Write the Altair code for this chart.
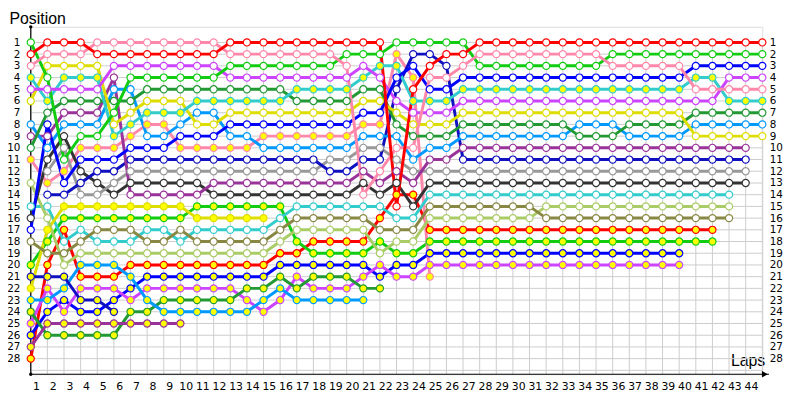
import altair as alt
import pandas as pd

N = None
# ---- data: position of each car at each lap (lap 0 = grid) ----
laps = list(range(45))
lap_labels = list(range(1, 45))       # label "n" sits between lap n-1 and lap n
pos_labels = list(range(1, 29))
grid_laps = list(range(45))
grid_pos = list(range(1, 30))

drivers = ["redY", "greenY", "blueY", "magY", "pinkY", "cyanW", "dkgreenY", "ltblueY",
           "yellowY", "purpleY", "dkblueY", "ltolive", "olive", "blackW", "grayW",
           "dkblueW", "purpleW", "ltblueW", "dkgreenW", "yellowW", "cyanY", "magW",
           "blueW", "greenW", "pinkW", "redW"]
colors = ["#ff0000", "#11cc11", "#0000ff", "#cc44ff", "#ff88aa", "#33cccc", "#229933", "#0099ff",
          "#dddd00", "#993399", "#1010c0", "#aacc66", "#888844", "#333333", "#999999",
          "#1010c0", "#993399", "#0099ff", "#229933", "#dddd00", "#33cccc", "#cc44ff",
          "#0000ff", "#11cc11", "#ff88aa", "#ff0000"]
fills = ["#ffff00", "#ffff00", "#ffff00", "#ffff00", "#ffff00", "white", "#ffff00", "#ffff00",
         "#ffff00", "#ffff00", "#ffff00", "white", "white", "white", "white",
         "white", "white", "white", "white", "white", "#ffff00", "white",
         "white", "white", "white", "white"]

redW = [2,1,1,1,2,2,2,2,2,2,2,2, 1,1,1,1,1,1,1,1,1,1, 15,5,3,2,2,
        1,1,1,1,1,1,1,1,1,1,1,1,1,1,1,1,1,1]
pinkW = [3,2,2,2, 1,1,1,1,1,1,1,1, 2,2,2,2,2,2,2, 3, 14,12,10,10,4,4,3,
         2,2,2,2,2,2,2,2, 3,3,3,3,3, 5,5,5,5,5]
greenW = [1,4,11,9,9,7, 4,4,4,4,4,4, 3,3,3,3,3,3,3, 2,2,2, 1,1,1,1,1,
          3,3,3,3,3,3,3,3, 2,2,2,2,2,2,2,2,2,2]
magW = [5,5,5,5,5, 3,3,3,3,3,3,3, 4,4,4,4,4,4,4,4, 3,4,6,7,7,7,6,
        6,6,6,6,6,6,6,6,6,6,6,6,6,6,6, 4,4,4]
cyanY = [4,6,4,4,4,9,8,7,7,7,6,6, 6,6,6,6, 5,5,5,5, 4,3,3,6,6,6,5,
         5,5,5,5,5,5,5,5,5,5,5,5,5, 4,4, 6,6,6]
dkgreenW = [10,7,6,6,6,6,6, 5,5,5,5,5,5,5,5,5, 6,6,6,6, 5,5,8,9,9,9,8,
            8,8,8,8,8,8, 9,9,9, 8,8,8,8, 7,7,7,7,7]
yellowW = [6,3,3,3,3,8,7,6,6,6,8,8, 7,7,7,7,7,7,7,7, 6,6,7,8,8,8,7,
           7,7,7,7,7,7,7,7,7,7,7,7,7, 9,9,9,9,9]
blueW = [17,8,13,11,11,11,10,10,10,9,9,9, 8,8,8,8,8,8,8,8, 7,7,4,3,5,5,4,
         4,4,4,4,4,4,4,4,4,4,4,4,4, 3,3,3,3,3]
ltblueW = [8,10,8,8,8,5,5,9,9,8,7,7, 9,9, 10,10,10,10,10,10, 9,9,9,11,10,10,9,
           9,9,9,9,9,9, 8,8,8, 9,9,9,9, 8,8,8,8,8]
purpleW = [9,9,7,7,7,4, 14,14,14,14,14, 13,13,13,13,13,13,13,13,13, 12,13,12,13,11,11,10,
           10,10,10,10,10,10,10,10,10,10,10,10,10,10,10,10,10, N]
dkblueW = [N,14,14,13,12,12, 11,11,11,11,11,11,11,11,11,11,11,11, 12,12, 11,11,5,2,2,3,11,
           11,11,11,11,11,11,11,11,11,11,11,11,11,11,11,11,11, N]
grayW = [N,12,10,14,14,13, 12,12,12,12,12,12,12,12,12,12,12,12, 11,11, 10,10,11,12,12,12,12,
         12,12,12,12,12,12,12,12,12,12,12,12,12,12,12,12,12, N]
blackW = [16,11,9,12,13,14, 13,13,13,13,13, 14,14,14,14,14,14,14,14,14, 13,14,13,15,13,13,13,
          13,13,13,13,13,13,13,13,13,13,13,13,13,13,13,13,13, N]
cyanW = [15,15,18,17,18,18,18,17,17,18,17,17,17,17,17,16, 15,15,15,15, 15,15,16,16,14,14,14,
         14,14,14,14,14,14,14,14,14,14,14,14,14,14,14,14, N, N]
olive = [18,19,19,18,17,17,17,18,18,17,18,18,18,18,18,17, 16,16,16,16, 16,17,17,17,15,15,15,
         15,15,15,15, 16,16,16,16,16,16,16,16,16,16,16,16, N, N]
ltolive = [13,16,20,19,19,19,19,19,19,19,19,19,19,19,19,18, 17,17,17,17, 17,19,18,18,16,16,16,
           16,16,16,16, 15,15,15,15,15,15,15,15,15,15,15,15, N, N]
pinkY = [11,13,12,10,10,10,9,8,8,10,10,10,10,10, 9,9,9,9,9,9, 8,8,2,4,21,
         N,N,N,N,N,N,N,N,N,N,N,N,N,N,N,N,N,N,N,N]
greenY = [20,18,16,16,16,16,16,16,16,16, 15,15,15,15,15,15, 18, 19,19,19,19, 18,19,19,
          18,18,18,18,18,18,18,18,18,18,18,18,18,18,18,18,18,18, N,N,N]
yellowY = [22,17, 15,15,15,15,15,15,15,15, 16,16,16,16,16,
           N,N,N,N,N,N,N,N,N,N,N,N,N,N,N,N,N,N,N,N,N,N,N,N,N,N,N,N,N,N]
redY = [28,20,17,21,21,21, 20,20,20,20,20,20,20,20,20, 19,19, 18,18,18,18, 16,14,14,
        17,17,17,17,17,17,17,17,17,17,17,17,17,17,17,17,17,17, N,N,N]
blueY = [26,24,23,24,24,23,22, 21,21,21,21,21,21,21,21, 20,20,20,20,20,20, 21,20,20,
         19,19,19,19,19,19,19,19,19,19,19,19,19,19,19,19, N,N,N,N,N]
magY = [25,22,24,22,22,22,23, 22,22,22,22,22,22, 23,24,23,21, 22,22,22, 21,20,21,21,
        20,20,20,20,20,20,20,20,20,20,20,20,20,20,20,20, N,N,N,N,N]
dkgreenY = [24,26,26,26,26,26,24,24,23,23,23,23,23,22,22,21,22,21,21,21,22,22,
            N,N,N,N,N,N,N,N,N,N,N,N,N,N,N,N,N,N,N,N,N,N,N]
ltblueY = [23,23,22,20,20,20,21,23,24,24,24,24,24,24,23,22,23,23,23,23,23,
           N,N,N,N,N,N,N,N,N,N,N,N,N,N,N,N,N,N,N,N,N,N,N,N]
dkblueY = [21,21,21,23,23,24,
           N,N,N,N,N,N,N,N,N,N,N,N,N,N,N,N,N,N,N,N,N,N,N,N,N,N,N,N,N,N,N,N,N,N,N,N,N,N,N]
purpleY = [27,25,25,25,25,25,25,25,25,25,
           N,N,N,N,N,N,N,N,N,N,N,N,N,N,N,N,N,N,N,N,N,N,N,N,N,N,N,N,N,N,N,N,N,N,N]

series = {"redW": redW, "pinkW": pinkW, "greenW": greenW, "magW": magW, "cyanY": cyanY,
          "dkgreenW": dkgreenW, "yellowW": yellowW, "blueW": blueW, "ltblueW": ltblueW,
          "purpleW": purpleW, "dkblueW": dkblueW, "grayW": grayW, "blackW": blackW,
          "cyanW": cyanW, "olive": olive, "ltolive": ltolive, "pinkY": pinkY, "greenY": greenY,
          "yellowY": yellowY, "redY": redY, "blueY": blueY, "magY": magY,
          "dkgreenY": dkgreenY, "ltblueY": ltblueY, "dkblueY": dkblueY, "purpleY": purpleY}

rows = []
for i, d in enumerate(drivers):
    for lap, p in zip(laps, series[d]):
        if p is not None:
            rows.append({"driver": d, "lap": lap, "pos": p, "fill": fills[i], "k": i})
df = pd.DataFrame(rows)

# ---- scales / axes ----
FONT = "DejaVu Sans"
TFONT = "Liberation Sans"
LABEL_SHIFT = -0.68   # labels drawn a little left of each lap's grid line
xsc = alt.Scale(domain=[0, 44], nice=False, zero=False)
ysc = alt.Scale(domain=[-0.33, 29.33], reverse=True, nice=False, zero=False)
csc = alt.Scale(domain=drivers, range=colors)

xaxis = alt.Axis(values=[v + LABEL_SHIFT for v in lap_labels],
                 labelExpr="round(datum.value + 0.5)", domain=False, ticks=False,
                 grid=False, labelFlush=False, labelOverlap=False, labelAlign="center",
                 labelPadding=6, labelFont=FONT, labelFontSize=11,
                 labelColor="black", title="Laps", titleX=707, titleY=-9,
                 titleAlign="left", titleBaseline="alphabetic", titleFont=TFONT,
                 titleFontSize=16, titleFontWeight="normal", titleColor="black")
yaxis_l = alt.Axis(values=pos_labels, domain=False, ticks=False, grid=False,
                   labelPadding=11, labelFont=FONT, labelFontSize=10.5, labelColor="black",
                   title="Position", titleAngle=0, titleX=-22, titleY=-3.5,
                   titleAlign="left", titleBaseline="alphabetic", titleFont=TFONT,
                   titleFontSize=16, titleFontWeight="normal", titleColor="black")
yaxis_r = alt.Axis(values=pos_labels, orient="right", domain=False, ticks=False, grid=False,
                   labelPadding=7, labelFont=FONT, labelFontSize=10.5, labelColor="black",
                   title=None)

X = alt.X("lap:Q", scale=xsc, axis=xaxis)

vgrid = alt.Chart(pd.DataFrame({"lap": grid_laps, "y1": 1, "y2": 29.33})).mark_rule(
    color="#cccccc", strokeWidth=1).encode(
    x=X, y=alt.Y("y1:Q", scale=ysc, axis=yaxis_l), y2="y2:Q")
hgrid = alt.Chart(pd.DataFrame({"pos": grid_pos, "x1": 0, "x2": 44})).mark_rule(
    color="#cccccc", strokeWidth=1).encode(
    x=alt.X("x1:Q", scale=xsc, axis=xaxis), x2="x2:Q",
    y=alt.Y("pos:Q", scale=ysc, axis=yaxis_r))

axes_df = pd.DataFrame({"x1": [0, 0], "x2": [0, 44.4], "y1": [-0.33, 29.33], "y2": [29.33, 29.33]})
axlines = alt.Chart(axes_df).mark_rule(color="black", strokeWidth=1.2).encode(
    x=alt.X("x1:Q", scale=xsc, axis=xaxis), x2="x2:Q",
    y=alt.Y("y1:Q", scale=ysc, axis=None), y2="y2:Q")
dots = alt.Chart(pd.DataFrame({"x": [0, 0], "y": [-0.33, 29.33]})).mark_circle(
    color="black", size=12, opacity=1).encode(
    x=alt.X("x:Q", scale=xsc, axis=xaxis), y=alt.Y("y:Q", scale=ysc, axis=None))
arrow = alt.Chart(pd.DataFrame({"x": [44.15], "y": [29.33]})).mark_point(
    shape="triangle-right", filled=True, color="black", size=45, opacity=1).encode(
    x=alt.X("x:Q", scale=xsc, axis=xaxis), y=alt.Y("y:Q", scale=ysc, axis=None))

lines = alt.Chart(df).mark_line(strokeWidth=3).encode(
    x=X, y=alt.Y("pos:Q", scale=ysc, axis=None),
    color=alt.Color("driver:N", scale=csc, legend=None),
    detail="driver:N", order="lap:Q")
points = alt.Chart(df).mark_point(shape="circle", filled=True, size=52, strokeWidth=1.2,
                                  opacity=1).encode(
    x=X, y=alt.Y("pos:Q", scale=ysc, axis=None),
    stroke=alt.Stroke("driver:N", scale=csc, legend=None),
    fill=alt.Fill("fill:N", scale=None), order="k:Q")

chart = alt.layer(vgrid, hgrid, axlines, dots, arrow, lines, points).resolve_axis(
    y="independent").properties(
    width=739.2, height=351,
    autosize=alt.AutoSizeParams(type="none"),
    padding={"left": 23, "top": 17, "right": 30, "bottom": 24},
).configure_view(stroke=None).configure(background="white")

chart.save("out.html", embed_options={"renderer": "svg", "actions": False})
